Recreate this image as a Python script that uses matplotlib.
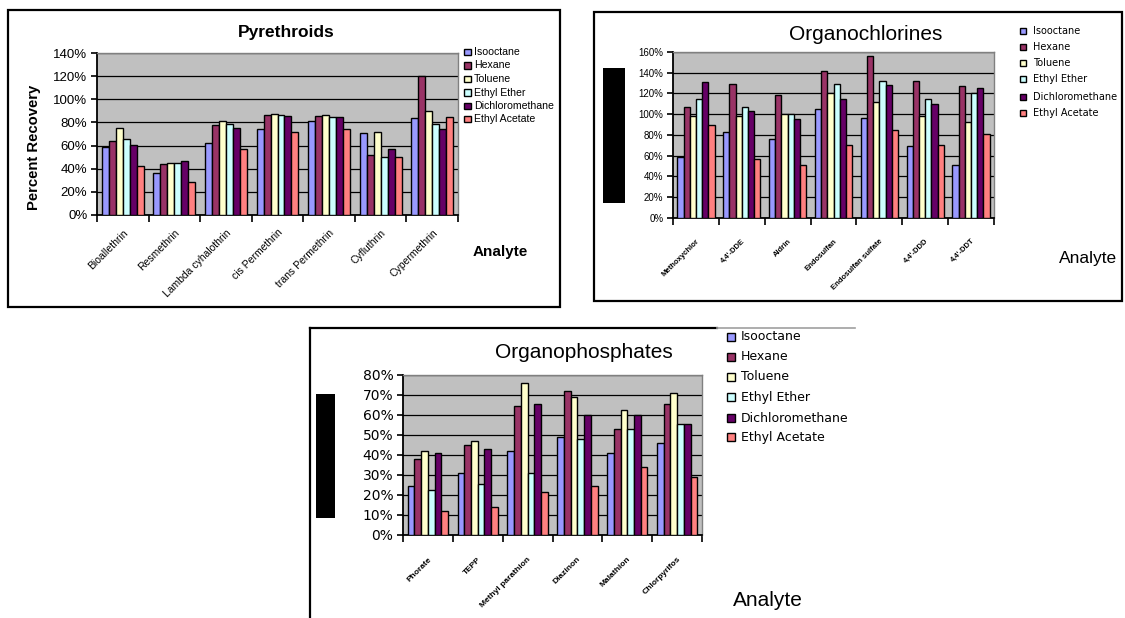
import matplotlib
matplotlib.use("Agg")
import matplotlib.pyplot as plt
from matplotlib.patches import Rectangle
from matplotlib.ticker import PercentFormatter, MultipleLocator, FixedLocator
import numpy as np

plt.rcParams["font.family"] = ["Liberation Sans", "DejaVu Sans"]

W, H, DPI = 1125, 618, 100

solvents = ["Isooctane", "Hexane", "Toluene", "Ethyl Ether", "Dichloromethane", "Ethyl Acetate"]
solvent_colors = ["#9999FF", "#993366", "#FFFFCC", "#CCFFFF", "#660066", "#FF8080"]

# Pyrethroids: percent recovery per solvent
pyr_analytes = ["Bioallethrin", "Resmethrin", "Lambda cyhalothrin", "cis Permethrin",
                "trans Permethrin", "Cyfluthrin", "Cypermethrin"]
pyr_isooctane = [59, 36, 62.5, 74, 81, 71, 83.5]
pyr_hexane = [64, 44.5, 78, 86, 85.5, 52, 120.5]
pyr_toluene = [75, 45, 81, 87, 86, 71.5, 89.5]
pyr_ethyl_ether = [65.5, 45, 78.5, 86, 84.5, 50, 79]
pyr_dichloromethane = [60.5, 47, 75, 85.5, 85, 57, 74]
pyr_ethyl_acetate = [42, 28.5, 57, 72, 74.5, 50, 84.5]

# Organochlorines
oc_analytes = ["Methoxychlor", "4,4'-DDE", "Aldrin", "Endosulfan", "Endosulfan sulfate",
               "4,4'-DDD", "4,4'-DDT"]
oc_isooctane = [58.5, 83, 76, 105, 96.5, 69, 51.5]
oc_hexane = [107, 129, 118.5, 141.5, 156.5, 132.5, 127]
oc_toluene = [98.5, 98, 100, 120, 112, 98, 93]
oc_ethyl_ether = [115, 107, 100, 129, 132.5, 115, 120]
oc_dichloromethane = [131, 103.5, 95, 115, 128.5, 110, 125.5]
oc_ethyl_acetate = [89.5, 57, 51.5, 70.5, 84.5, 70.5, 81]

# Organophosphates
op_analytes = ["Phorate", "TEPP", "Methyl parathion", "Diazinon", "Malathion", "Chlorpyrifos"]
op_isooctane = [24.5, 31, 42, 49, 41, 46]
op_hexane = [38, 45, 64.5, 72, 53, 65.5]
op_toluene = [42, 47, 76, 69, 62.5, 71]
op_ethyl_ether = [22.5, 25.5, 31, 48, 53, 55.5]
op_dichloromethane = [41, 43, 65.5, 60, 60, 55.5]
op_ethyl_acetate = [12, 14, 21.5, 24.5, 34, 29]

fig = plt.figure(figsize=(W / DPI, H / DPI), dpi=DPI)
fig.patch.set_facecolor("white")

# Overlay in pixel coordinates for frames, titles and legends
ov = fig.add_axes([0, 0, 1, 1], zorder=0)
ov.set_xlim(0, W)
ov.set_ylim(H, 0)
ov.axis("off")
ov.patch.set_alpha(0)

def px_rect(x0, y0, x1, y1):
    return [x0 / W, 1 - y1 / H, (x1 - x0) / W, (y1 - y0) / H]

def frame(x0, y0, x1, y1, lw=1.6):
    ov.add_patch(Rectangle((x0, y0), x1 - x0, y1 - y0, fill=False,
                           edgecolor="black", lw=lw, zorder=1))

def bar_panel(rect, analytes, series, ymax, ystep, ytick_font, xtick_font,
              xpad, ypad):
    ax = fig.add_axes(px_rect(*rect), zorder=2)
    ax.set_facecolor("#C0C0C0")
    n = len(analytes)
    x = np.arange(n)
    bw = 0.135
    for i, (vals, col) in enumerate(zip(series, solvent_colors)):
        ax.bar(x + (i - 2.5) * bw, vals, width=bw, color=col,
               edgecolor="black", linewidth=1.0, zorder=3)
    ax.set_xlim(-0.5, n - 0.5)
    ax.set_ylim(0, ymax)
    ax.yaxis.set_major_locator(MultipleLocator(ystep))
    ax.yaxis.set_major_formatter(PercentFormatter(xmax=100, decimals=0))
    ax.grid(axis="y", color="black", lw=0.9, zorder=1)
    ax.set_axisbelow(True)
    ax.set_xticks(x)
    ax.set_xticklabels(analytes, rotation=45, ha="right", rotation_mode="anchor",
                       **xtick_font)
    ax.tick_params(axis="x", which="major", length=0, pad=xpad)
    ax.xaxis.set_minor_locator(FixedLocator(np.arange(n + 1) - 0.5))
    ax.tick_params(axis="x", which="minor", length=5, width=1.2, direction="out")
    ax.tick_params(axis="y", length=4, width=1.2, direction="out", pad=ypad)
    for lab in ax.get_yticklabels():
        lab.set(**ytick_font)
    for s in ("left", "bottom"):
        ax.spines[s].set_color("black")
        ax.spines[s].set_linewidth(1.3)
    for s in ("top", "right"):
        ax.spines[s].set_color("#808080")
        ax.spines[s].set_linewidth(1.0)
    return ax

def legend(x_sq, x_txt, ys, sq, font):
    for name, col, y in zip(solvents, solvent_colors, ys):
        ov.add_patch(Rectangle((x_sq, y - sq / 2), sq, sq, facecolor=col,
                               edgecolor="black", lw=1.0, zorder=5))
        ov.text(x_txt, y, name, va="center", ha="left", zorder=5, **font)

# ---- Pyrethroids ----
frame(8, 10, 560, 307)
bar_panel((97, 53, 458, 215), pyr_analytes,
          [pyr_isooctane, pyr_hexane, pyr_toluene, pyr_ethyl_ether,
           pyr_dichloromethane, pyr_ethyl_acetate],
          140, 20, dict(fontsize=9.5, family="Liberation Sans"),
          dict(fontsize=7.5, family="Liberation Sans"), xpad=9, ypad=3)
ov.text(286, 32, "Pyrethroids", ha="center", va="center", fontsize=12.5,
        fontweight="bold")
ov.text(34, 147, "Percent Recovery", ha="center", va="center", rotation=90,
        fontsize=10.7, fontweight="bold")
ov.text(500, 252, "Analyte", ha="center", va="center", fontsize=11, fontweight="bold")
legend(464, 474, [52, 65.5, 79, 92.5, 106, 119], 6.5,
       dict(fontsize=7.6, family="Liberation Sans"))

# ---- Organochlorines ----
frame(594, 12, 1122, 301)
bar_panel((673, 52, 994, 218), oc_analytes,
          [oc_isooctane, oc_hexane, oc_toluene, oc_ethyl_ether,
           oc_dichloromethane, oc_ethyl_acetate],
          160, 20, dict(fontsize=7, family="Liberation Sans"),
          dict(fontsize=5.5, family="Liberation Sans", fontweight="bold"),
          xpad=14, ypad=3)
ov.text(866, 34, "Organochlorines", ha="center", va="center", fontsize=15)
ov.text(1088, 259, "Analyte", ha="center", va="center", fontsize=12.5)
ov.add_patch(Rectangle((603, 68), 22, 135, facecolor="black", edgecolor="none", zorder=6))
legend(1020, 1033, [31, 47, 63, 79, 97, 113], 6,
       dict(fontsize=7, family="DejaVu Sans"))

# ---- Organophosphates ----
# frame: left side and top edge (legend area sits over the top-right part)
ov.plot([310, 310], [327.5, 640], color="black", lw=1.6, zorder=1)
ov.plot([310, 717], [327.5, 327.5], color="black", lw=1.6, zorder=1)
ov.plot([717, 855], [327.5, 327.5], color="#A0A0A0", lw=1.2, zorder=1)
bar_panel((403, 375, 702, 535), op_analytes,
          [op_isooctane, op_hexane, op_toluene, op_ethyl_ether,
           op_dichloromethane, op_ethyl_acetate],
          80, 10, dict(fontsize=10, family="DejaVu Sans"),
          dict(fontsize=6, family="Liberation Sans", fontweight="bold"),
          xpad=15, ypad=3)
ov.text(584, 353, "Organophosphates", ha="center", va="center", fontsize=15)
ov.text(768, 601, "Analyte", ha="center", va="center", fontsize=15)
ov.add_patch(Rectangle((315.5, 394), 19.5, 124, facecolor="black", edgecolor="none", zorder=6))
legend(727, 741, [337, 357, 377, 397, 418, 437], 8,
       dict(fontsize=9, family="DejaVu Sans"))

fig.savefig("out.png", dpi=DPI, facecolor="white")
